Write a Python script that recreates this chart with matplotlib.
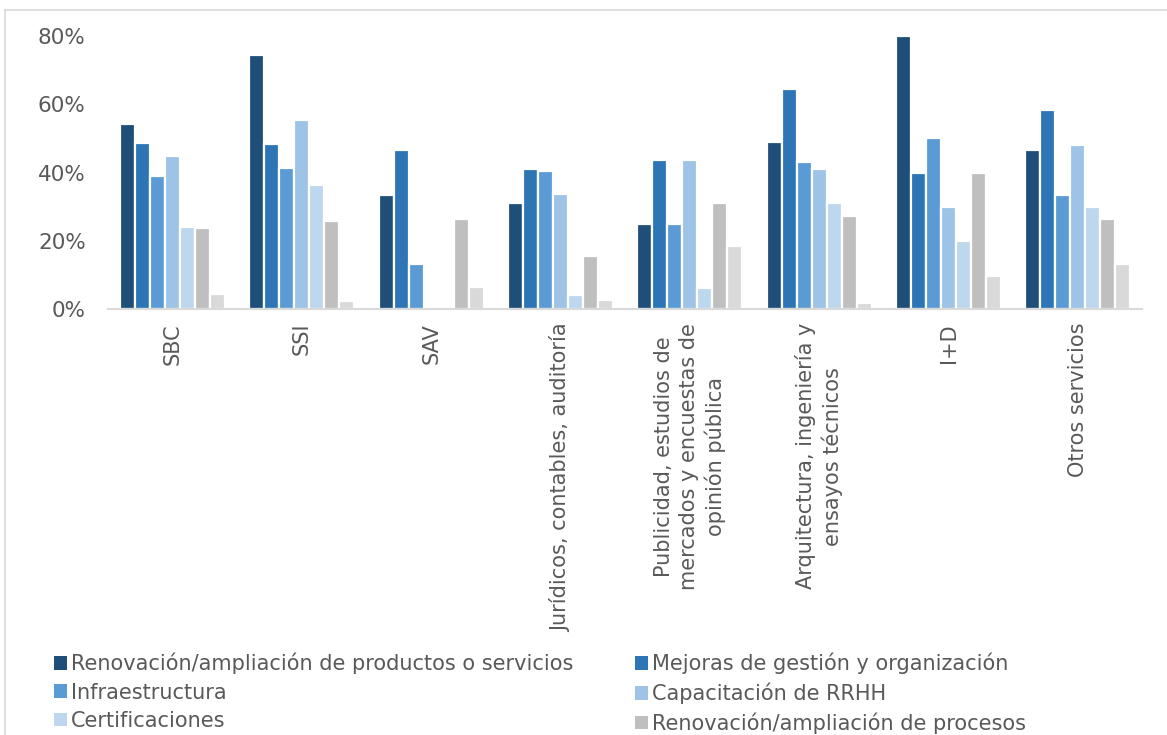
import matplotlib
matplotlib.use("Agg")
import matplotlib.pyplot as plt
from matplotlib.lines import Line2D
import numpy as np

categories = ["SBC", "SSI", "SAV", "Jurídicos, contables, auditoría",
              "Publicidad, estudios de\nmercados y encuestas de\nopinión pública",
              "Arquitectura, ingeniería y\nensayos técnicos", "I+D", "Otros servicios"]
series_names = ["Renovación/ampliación de productos o servicios",
                "Mejoras de gestión y organización",
                "Infraestructura",
                "Capacitación de RRHH",
                "Certificaciones",
                "Renovación/ampliación de procesos",
                "Otros"]
renovacion_productos = [54.1, 74.4, 33.3, 31.0, 24.8, 48.9, 80.0, 46.6]
mejoras_gestion      = [48.7, 48.3, 46.6, 41.0, 43.6, 64.6, 39.8, 58.3]
infraestructura      = [39.0, 41.2, 13.1, 40.3, 24.8, 43.0, 50.0, 33.3]
capacitacion         = [44.8, 55.5, 0.0, 33.8, 43.6, 41.1, 29.8, 48.2]
certificaciones      = [23.9, 36.2, 0.0, 4.0, 6.1, 31.2, 19.9, 29.8]
renovacion_procesos  = [23.7, 25.9, 26.5, 15.4, 31.1, 27.3, 39.8, 26.5]
otros                = [4.4, 2.4, 6.4, 2.6, 18.6, 1.7, 9.8, 13.1]
yticks = [0, 20, 40, 60, 80]

series = [renovacion_productos, mejoras_gestion, infraestructura, capacitacion,
          certificaciones, renovacion_procesos, otros]
colors = ["#1F4E79", "#2E75B6", "#5B9BD5", "#9DC3E6", "#BDD7EE", "#BFBFBF", "#D9D9D9"]

plt.rcParams['font.family'] = ['DejaVu Sans']
txt = "#595959"

fig = plt.figure(figsize=(11.67, 7.35), dpi=100)
ax = fig.add_axes([0.0925, 0.5796, 0.8865, 0.3714])

x = np.arange(len(categories))
pitch = 0.116
width = 0.116
handles = []
for i, (vals, c) in enumerate(zip(series, colors)):
    b = ax.bar(x + (i - 3) * pitch, vals, width, color=c, edgecolor="white", linewidth=1.6,
               label=series_names[i])
    handles.append(b)

ax.set_xlim(-0.5, len(categories) - 0.5)
ax.set_ylim(0, 80)
ax.set_yticks(yticks)
ax.set_yticklabels([f"{v}%" for v in yticks], color=txt, fontsize=15.5)
ax.set_xticks(x)
ax.set_xticklabels(categories, rotation=90, color=txt, fontsize=15,
                   va="top", ha="center", multialignment="center", linespacing=1.3)
ax.tick_params(axis="both", length=0)
ax.tick_params(axis="x", pad=10)
ax.tick_params(axis="y", pad=16)
for s in ["top", "right", "left"]:
    ax.spines[s].set_visible(False)
ax.spines["bottom"].set_color("#D9D9D9")
ax.spines["bottom"].set_linewidth(1.5)

order = [0, 2, 4, 1, 3, 5]
leg = fig.legend([handles[k] for k in order], [series_names[k] for k in order], ncol=2,
                 loc="upper left", bbox_to_anchor=(0.046, 0.112), frameon=False,
                 fontsize=15, handlelength=0.65, handleheight=0.65, handletextpad=0.18,
                 columnspacing=2.95, labelspacing=0.4, borderpad=0.0, borderaxespad=0.0)
for t in leg.get_texts():
    t.set_color(txt)
for h in leg.legend_handles:
    h.set_linewidth(0)

# chart frame
fig.add_artist(Line2D([5/1167, 1.0], [1 - 10/735, 1 - 10/735], color="#D9D9D9", lw=1.2,
                      transform=fig.transFigure))
fig.add_artist(Line2D([5/1167, 5/1167], [0, 1 - 10/735], color="#D9D9D9", lw=1.2,
                      transform=fig.transFigure))

fig.savefig("out.png", dpi=100)
